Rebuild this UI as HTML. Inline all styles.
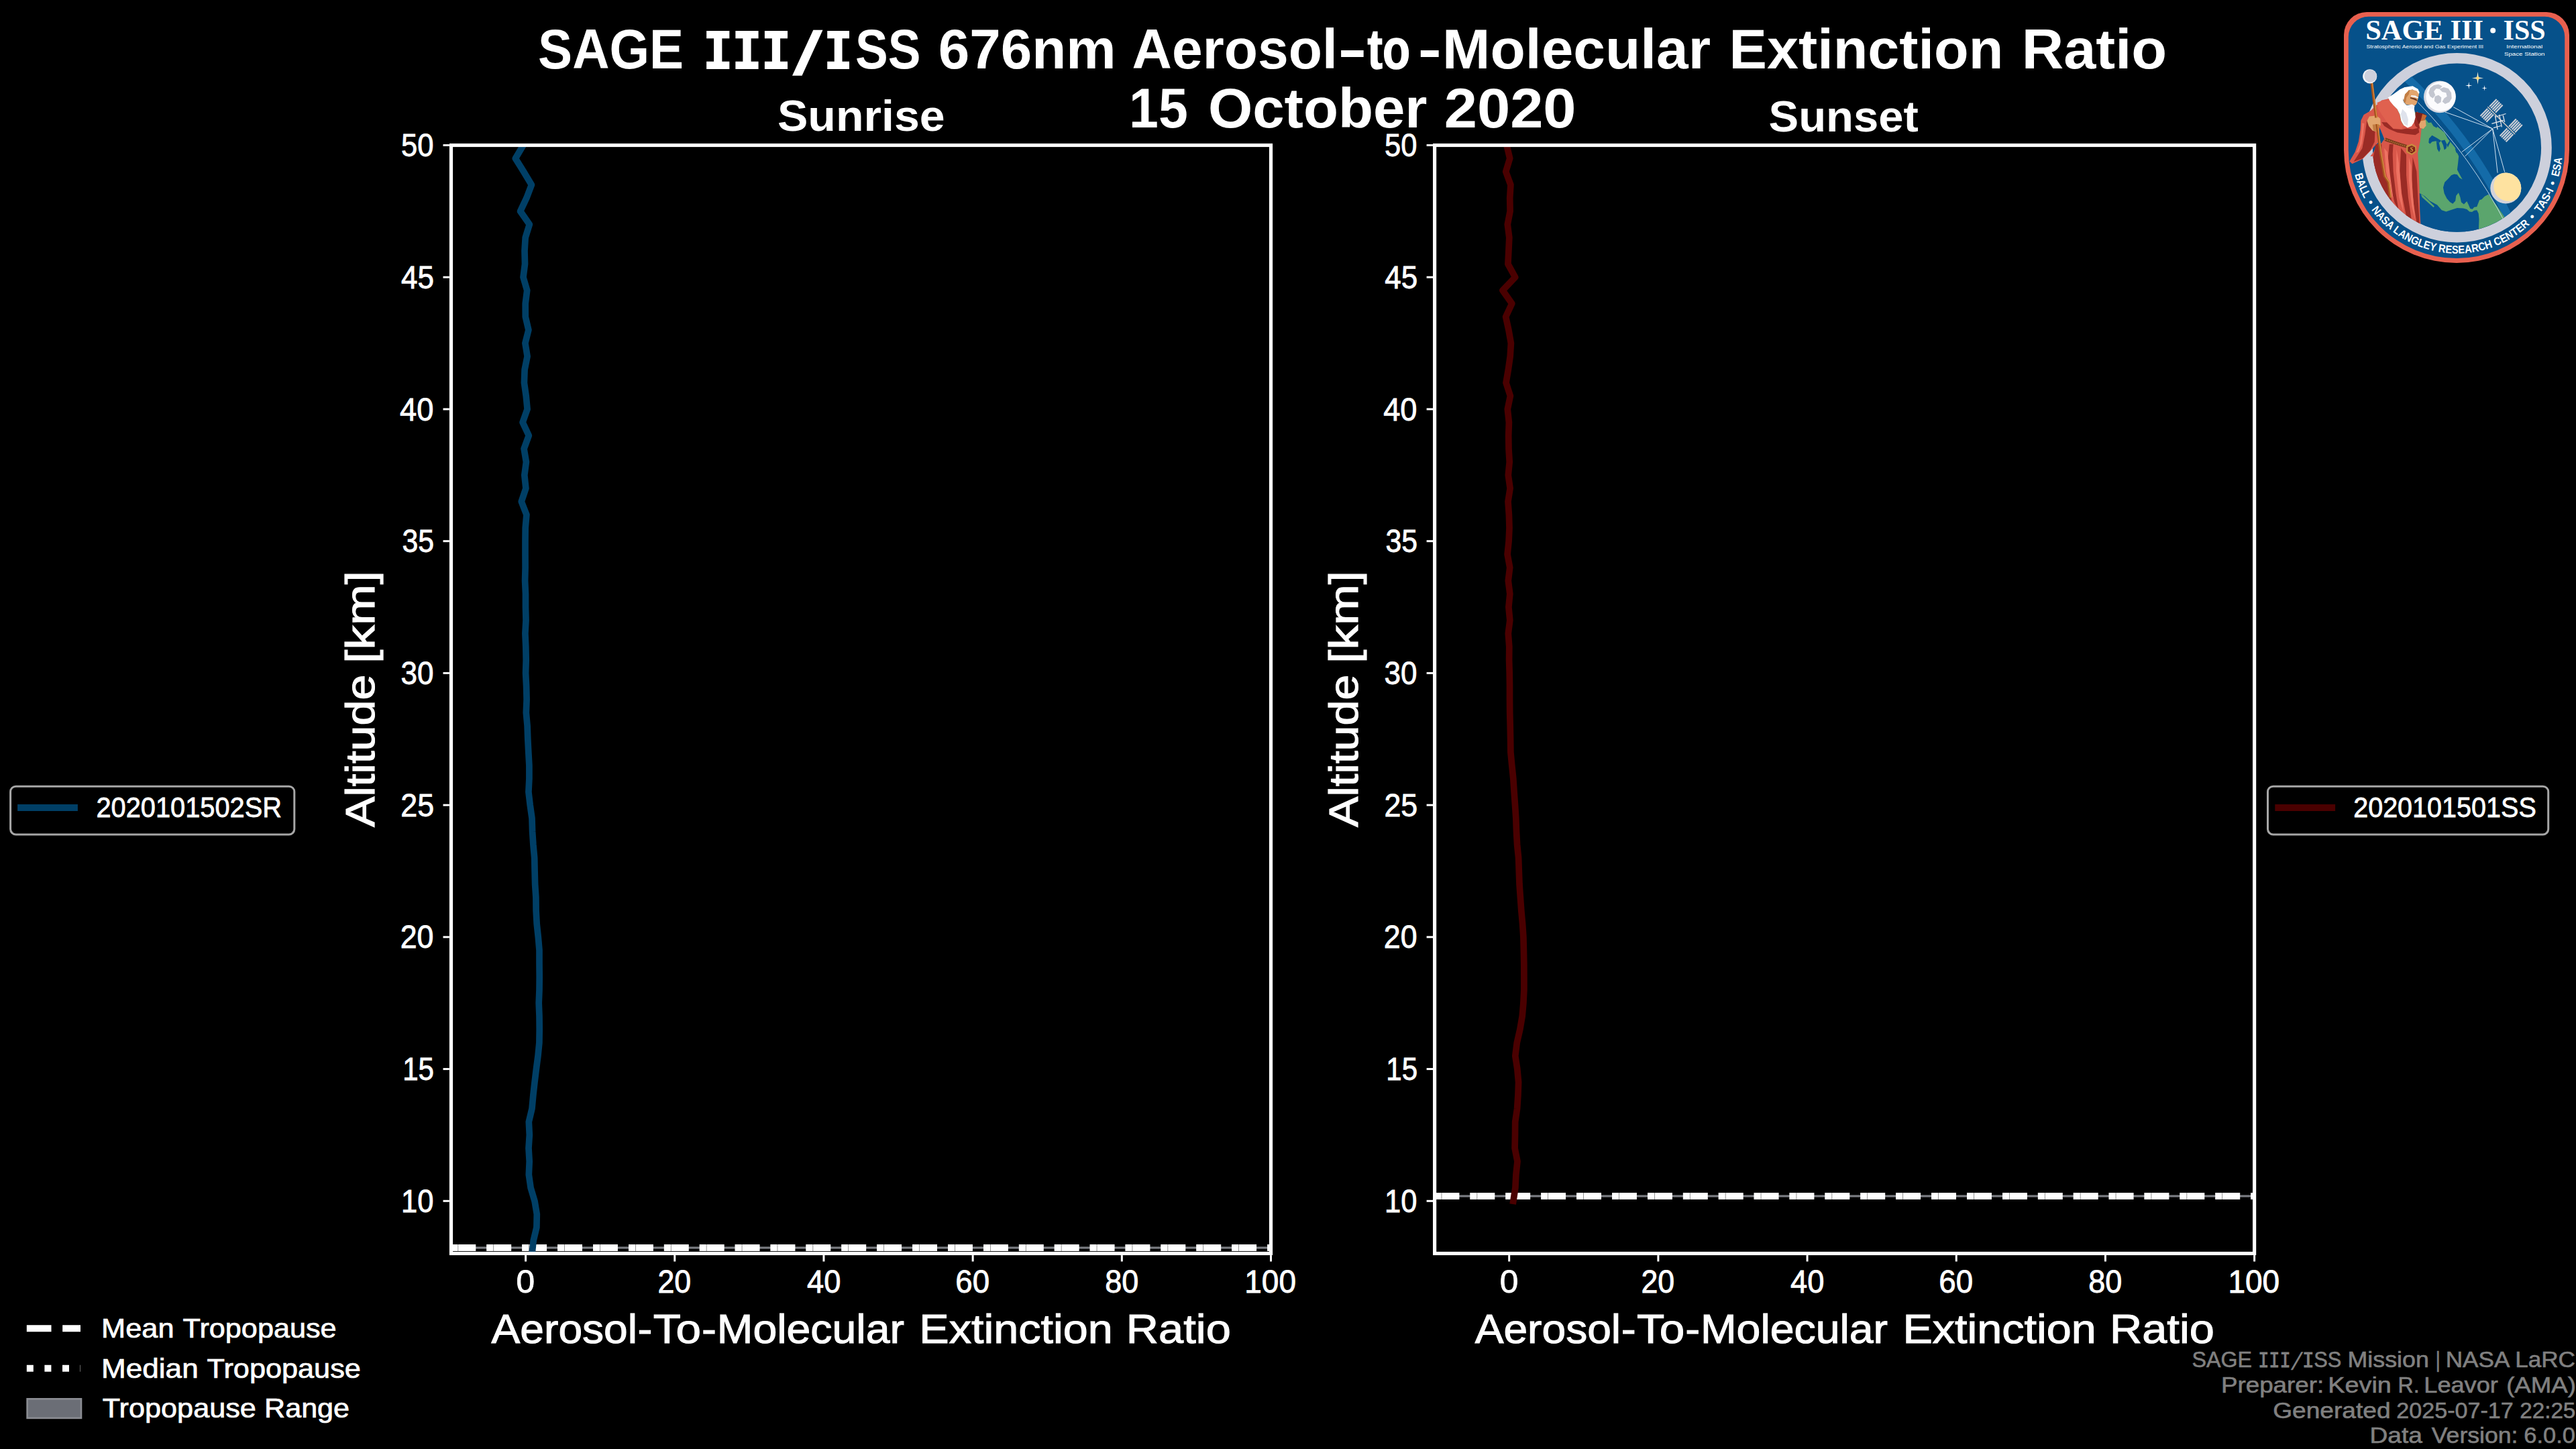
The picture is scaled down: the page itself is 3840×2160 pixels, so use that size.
<!DOCTYPE html>
<html><head><meta charset="utf-8"><title>SAGE III/ISS 676nm Aerosol-to-Molecular Extinction Ratio</title>
<style>
html,body{margin:0;padding:0;background:#000;}
body{width:3840px;height:2160px;overflow:hidden;}
svg{display:block;}
text{font-family:"Liberation Sans",sans-serif;white-space:pre;}
</style></head>
<body>
<svg width="3840" height="2160" viewBox="0 0 3840 2160">
<defs><clipPath id="clipax0"><rect x="672.5" y="216.5" width="1222" height="1652"/></clipPath><clipPath id="clipax1"><rect x="2138.6" y="216.5" width="1222" height="1652"/></clipPath></defs>
<rect width="3840" height="2160" fill="#000"/>
<g id="tropopause">
<g clip-path="url(#clipax0)">
<rect x="672.5" y="1858.4" width="1222" height="3.2" fill="#7a7c82"/>
<line x1="672.5" x2="1894.5" y1="1860" y2="1860" stroke="#fff" stroke-width="10" stroke-dasharray="36.8 16.1"/>
<line x1="672.5" x2="1894.5" y1="1860" y2="1860" stroke="#fff" stroke-width="10" stroke-dasharray="10 16.45"/>
<line x1="672.5" x2="1894.5" y1="1860" y2="1860" stroke="#6a6a6a" stroke-width="10" stroke-dasharray="0.7 52.2" stroke-dashoffset="-10"/>
</g>
<g clip-path="url(#clipax1)">
<rect x="2138.6" y="1781.4" width="1222" height="3.2" fill="#7a7c82"/>
<line x1="2138.6" x2="3360.6" y1="1783" y2="1783" stroke="#fff" stroke-width="10" stroke-dasharray="36.8 16.1"/>
<line x1="2138.6" x2="3360.6" y1="1783" y2="1783" stroke="#fff" stroke-width="10" stroke-dasharray="10 16.45"/>
<line x1="2138.6" x2="3360.6" y1="1783" y2="1783" stroke="#6a6a6a" stroke-width="10" stroke-dasharray="0.7 52.2" stroke-dashoffset="-10"/>
</g>
</g>
<g id="profiles">
<path d="M780 216.5 L768.3 236.17 L780.6 255.84 L792.4 275.52 L784.9 295.19 L775.6 314.86 L789.3 334.53 L783.2 354.21 L782 373.88 L782.5 393.55 L780 413.23 L785.7 432.9 L783.2 452.57 L783.3 472.24 L787.9 491.91 L782.9 511.59 L786.1 531.26 L782.1 550.93 L781.4 570.61 L784.2 590.28 L786.1 609.95 L779.1 629.62 L788.3 649.29 L781.1 668.97 L784.4 688.64 L781.8 708.31 L783.9 727.99 L777.3 747.66 L784.9 767.33 L783.2 787 L783 806.67 L783 826.35 L783.1 846.02 L782.6 865.69 L783.5 885.37 L783.5 905.04 L784 924.71 L782.9 944.38 L783.8 964.05 L784.2 983.73 L783.6 1003.4 L784.6 1023.07 L785.1 1042.74 L784.3 1062.42 L786.1 1082.09 L786.8 1101.76 L787.8 1121.43 L788.9 1141.11 L788.9 1160.78 L787.9 1180.45 L790.2 1200.12 L793 1219.8 L793.6 1239.47 L794.9 1259.14 L796.7 1278.82 L797.1 1298.49 L797.6 1318.16 L798.9 1337.83 L799.1 1357.5 L800.2 1377.18 L802.3 1396.85 L804 1416.52 L804 1436.19 L804.2 1455.87 L804 1475.54 L803.2 1495.21 L804 1514.88 L804.2 1534.56 L803.9 1554.23 L802 1573.9 L799.4 1593.58 L797 1613.25 L794.8 1632.92 L793 1652.59 L788.3 1672.26 L789.3 1691.94 L788 1711.61 L789.2 1731.28 L788.3 1750.95 L791.1 1770.63 L797 1790.3 L800.3 1809.97 L799.9 1829.64 L795.2 1849.32 L793.1 1868.99 L792 1888.66" fill="none" stroke="#003f66" stroke-width="9.7" stroke-linejoin="round" stroke-linecap="square" clip-path="url(#clipax0)"/>
<path d="M2246 216.5 L2250.7 236.17 L2244.7 255.84 L2251.9 275.52 L2250.7 295.19 L2251.1 314.86 L2247.3 334.53 L2249.8 354.21 L2248.9 373.88 L2247.9 393.55 L2258.7 413.23 L2240 432.9 L2253.8 452.57 L2244.6 472.24 L2248.9 491.91 L2252.4 511.59 L2251.2 531.26 L2248.4 550.93 L2245 570.61 L2251.4 590.28 L2247.3 609.95 L2249.4 629.62 L2248.7 649.29 L2249 668.97 L2250.2 688.64 L2248.3 708.31 L2251.1 727.99 L2248 747.66 L2249.4 767.33 L2250 787 L2249.1 806.67 L2247.1 826.35 L2250.7 846.02 L2248.3 865.69 L2250.8 885.37 L2248.9 905.04 L2250.8 924.71 L2248.3 944.38 L2249.8 964.05 L2249.6 983.73 L2250.2 1003.4 L2250.5 1023.07 L2250.5 1042.74 L2250.7 1062.42 L2251.2 1082.09 L2251.6 1101.76 L2251.9 1121.43 L2253.8 1141.11 L2255.8 1160.78 L2257.1 1180.45 L2258.5 1200.12 L2259.8 1219.8 L2260.5 1239.47 L2261.6 1259.14 L2263.6 1278.82 L2264.3 1298.49 L2265 1318.16 L2266.4 1337.83 L2267.8 1357.5 L2269.6 1377.18 L2270.9 1396.85 L2271.4 1416.52 L2271.8 1436.19 L2271.9 1455.87 L2271.9 1475.54 L2270.9 1495.21 L2269.2 1514.88 L2265.8 1534.56 L2261.3 1554.23 L2258.8 1573.9 L2261.8 1593.58 L2263.6 1613.25 L2262.9 1632.92 L2261.6 1652.59 L2258.7 1672.26 L2258.5 1691.94 L2258.1 1711.61 L2262 1731.28 L2259.9 1750.95 L2258.9 1770.63 L2255.9 1790.3" fill="none" stroke="#4a0000" stroke-width="9.7" stroke-linejoin="round" stroke-linecap="square" clip-path="url(#clipax1)"/>
</g>
<g id="frames">
<rect x="672.5" y="216.5" width="1222" height="1652" fill="none" stroke="#fff" stroke-width="5.2"/>
<line x1="660.5" x2="669.9" y1="1790.3" y2="1790.3" stroke="#fff" stroke-width="3"/>
<line x1="660.5" x2="669.9" y1="1593.58" y2="1593.58" stroke="#fff" stroke-width="3"/>
<line x1="660.5" x2="669.9" y1="1396.85" y2="1396.85" stroke="#fff" stroke-width="3"/>
<line x1="660.5" x2="669.9" y1="1200.12" y2="1200.12" stroke="#fff" stroke-width="3"/>
<line x1="660.5" x2="669.9" y1="1003.4" y2="1003.4" stroke="#fff" stroke-width="3"/>
<line x1="660.5" x2="669.9" y1="806.67" y2="806.67" stroke="#fff" stroke-width="3"/>
<line x1="660.5" x2="669.9" y1="609.95" y2="609.95" stroke="#fff" stroke-width="3"/>
<line x1="660.5" x2="669.9" y1="413.23" y2="413.23" stroke="#fff" stroke-width="3"/>
<line x1="660.5" x2="669.9" y1="216.5" y2="216.5" stroke="#fff" stroke-width="3"/>
<line y1="1880.5" y2="1871.1" x1="783.59" x2="783.59" stroke="#fff" stroke-width="3"/>
<line y1="1880.5" y2="1871.1" x1="1005.77" x2="1005.77" stroke="#fff" stroke-width="3"/>
<line y1="1880.5" y2="1871.1" x1="1227.95" x2="1227.95" stroke="#fff" stroke-width="3"/>
<line y1="1880.5" y2="1871.1" x1="1450.14" x2="1450.14" stroke="#fff" stroke-width="3"/>
<line y1="1880.5" y2="1871.1" x1="1672.32" x2="1672.32" stroke="#fff" stroke-width="3"/>
<line y1="1880.5" y2="1871.1" x1="1894.5" x2="1894.5" stroke="#fff" stroke-width="3"/>
<rect x="2138.6" y="216.5" width="1222" height="1652" fill="none" stroke="#fff" stroke-width="5.2"/>
<line x1="2126.6" x2="2136" y1="1790.3" y2="1790.3" stroke="#fff" stroke-width="3"/>
<line x1="2126.6" x2="2136" y1="1593.58" y2="1593.58" stroke="#fff" stroke-width="3"/>
<line x1="2126.6" x2="2136" y1="1396.85" y2="1396.85" stroke="#fff" stroke-width="3"/>
<line x1="2126.6" x2="2136" y1="1200.12" y2="1200.12" stroke="#fff" stroke-width="3"/>
<line x1="2126.6" x2="2136" y1="1003.4" y2="1003.4" stroke="#fff" stroke-width="3"/>
<line x1="2126.6" x2="2136" y1="806.67" y2="806.67" stroke="#fff" stroke-width="3"/>
<line x1="2126.6" x2="2136" y1="609.95" y2="609.95" stroke="#fff" stroke-width="3"/>
<line x1="2126.6" x2="2136" y1="413.23" y2="413.23" stroke="#fff" stroke-width="3"/>
<line x1="2126.6" x2="2136" y1="216.5" y2="216.5" stroke="#fff" stroke-width="3"/>
<line y1="1880.5" y2="1871.1" x1="2249.69" x2="2249.69" stroke="#fff" stroke-width="3"/>
<line y1="1880.5" y2="1871.1" x1="2471.87" x2="2471.87" stroke="#fff" stroke-width="3"/>
<line y1="1880.5" y2="1871.1" x1="2694.05" x2="2694.05" stroke="#fff" stroke-width="3"/>
<line y1="1880.5" y2="1871.1" x1="2916.24" x2="2916.24" stroke="#fff" stroke-width="3"/>
<line y1="1880.5" y2="1871.1" x1="3138.42" x2="3138.42" stroke="#fff" stroke-width="3"/>
<line y1="1880.5" y2="1871.1" x1="3360.6" x2="3360.6" stroke="#fff" stroke-width="3"/>
</g>
<g id="legends">
<rect x="15.6" y="1172.2" width="423.2" height="71.8" rx="8" ry="8" fill="#000" stroke="#a6a6a6" stroke-width="3"/>
<line x1="26.1" x2="115.9" y1="1204" y2="1204" stroke="#003f66" stroke-width="10"/>
<rect x="3380.5" y="1172.2" width="418.2" height="71.8" rx="8" ry="8" fill="#000" stroke="#a6a6a6" stroke-width="3"/>
<line x1="3391.3" x2="3481.1" y1="1204" y2="1204" stroke="#4a0000" stroke-width="10"/>
<line x1="39.8" x2="120" y1="1980.2" y2="1980.2" stroke="#fff" stroke-width="10" stroke-dasharray="36.7 16.7"/>
<line x1="39.8" x2="120" y1="2039.8" y2="2039.8" stroke="#fff" stroke-width="10" stroke-dasharray="10 16.6"/>
<rect x="40.6" y="2085.3" width="80.4" height="28.6" fill="#6b6e76" stroke="#8b8d93" stroke-width="2.6"/>
</g>
<g id="logo">
<defs><clipPath id="lgdisc"><circle cx="3662.5" cy="220.2" r="125.6"/></clipPath><clipPath id="lgwiz"><circle cx="3662.5" cy="220.2" r="125.89999999999999"/><rect x="3490" y="80" width="200" height="153"/></clipPath><path id="lgarc" d="M 3504.9 220.2 A 157.6 157.6 0 0 0 3820.1 220.2"/></defs>
<path d="M 3528 18 H 3796 A 34 34 0 0 1 3830 52 V 224 A 168 168 0 0 1 3494 224 V 52 A 34 34 0 0 1 3528 18 Z" fill="#e8604f"/>
<path d="M 3530.7 24.8 H 3793.3 A 29.9 29.9 0 0 1 3823.2 54.7 V 224 A 161.2 161.2 0 0 1 3500.8 224 V 54.7 A 29.9 29.9 0 0 1 3530.7 24.8 Z" fill="#06518a"/>
<circle cx="3662.5" cy="220.2" r="133.45" fill="#06518a" stroke="#cdd0dc" stroke-width="15.700000000000017"/>
<g clip-path="url(#lgdisc)">
<circle cx="3077.8" cy="671.1" r="739.0" fill="#07548f"/>
<circle cx="3107.9" cy="624.3" r="699.1" fill="none" stroke="#146ba8" stroke-width="12.5"/>
<polygon points="3566.9,155.8 3611,171.3 3620,182.9 3627.6,182.3 3632,187.9 3636.4,191.2 3644.2,197.8 3648.6,206.6 3659.6,219.9 3665.2,233.1 3664,244.2 3662.9,253 3666.3,259.6 3670.7,267.6 3666.3,264.9 3662.9,260.2 3658.5,259.4 3654.1,261.3 3649.7,266.3 3644.2,271.8 3642,279.5 3643.6,288.3 3647.5,296.1 3651.9,301 3656.3,303.8 3660.2,299.4 3661.3,291.7 3664.9,287.2 3667.4,293.9 3669,301.6 3672.9,304.4 3677.3,299.9 3679.7,304.9 3682.3,311 3685.6,311.7 3688.3,308.8 3692.2,308.2 3693.9,303.8 3696.1,298.3 3699.4,297.2 3703.8,292.8 3709.5,289.7 3721.5,306 3738,330.3 3721.5,354.6 3695,354.6 3695,340.2 3695.5,327 3694.7,318.2 3692.2,313.2 3688.3,313.7 3685,315.9 3681.2,315.4 3677.3,312.1 3671.8,310.4 3662.9,309.9 3655.2,312.6 3646.4,315.4 3639.8,313.2 3633.1,305.5 3622.1,299.4 3614.4,292.2 3607.2,288.3 3566.9,277.3" fill="#5ba56d" />
<polygon points="3608.8,289.7 3612.4,291.4 3628.9,307.3 3627.6,309.3 3610.5,294.1" fill="#5ba56d" />
<polygon points="3621,206.6 3625.4,201.7 3633.1,206.1 3638.9,209.7 3636.4,212.4 3630.9,210.2 3625.6,211.3 3622.3,214.6 3620.3,212.4" fill="#07548f" />
<polygon points="3631.8,211 3635.6,212.1 3637.8,222.1 3636,226.7 3633.1,222.1" fill="#07548f" />
<polygon points="3638.9,209.7 3644.4,208.6 3647.7,215.5 3646.6,221.2 3643.7,223.4 3642,216.6" fill="#07548f" />
<polygon points="3647.7,215.5 3653.2,207.3 3652.3,212.4 3648.8,220.1" fill="#07548f" />
<polygon points="3659.6,221.6 3662.5,223.6 3663.8,228.9 3661.4,227.2" fill="#07548f" />
<polygon points="3623.7,178 3628.7,180.7 3633.9,185.7 3632.4,190.7 3627.5,187.9 3624.7,183.4" fill="#07548f" />
<path d="M 3604.3 152.5 A 739.0 739.0 0 0 1 3735.9 335" fill="none" stroke="#cfe3f2" stroke-width="0.9"/>
<line x1="3715.7" y1="191.9" x2="3657.3" y2="159.6" stroke="#e6f1fa" stroke-width="0.9" />
<line x1="3715.7" y1="191.9" x2="3644.8" y2="167" stroke="#e6f1fa" stroke-width="0.9" />
<line x1="3715.7" y1="191.9" x2="3669.7" y2="226.7" stroke="#e6f1fa" stroke-width="0.9" />
<line x1="3715.7" y1="191.9" x2="3674.7" y2="232.9" stroke="#e6f1fa" stroke-width="0.9" />
<line x1="3715.7" y1="191.9" x2="3723.1" y2="257.7" stroke="#e6f1fa" stroke-width="0.9" />
<line x1="3715.7" y1="191.9" x2="3733.7" y2="256.5" stroke="#e6f1fa" stroke-width="0.9" />
<circle cx="3636.9" cy="144.4" r="23.9" fill="#d6d8e1"/>
<circle cx="3638.5" cy="143.8" r="22.2" fill="#fbfbfd"/>
<polygon points="3620.4,138.3 3622.5,131.3 3628.1,127.1 3635.1,125.7 3640.7,128.5 3636.5,132.7 3631.6,132 3628.1,136.2 3630.2,141.7 3626.7,146.6 3622.5,143.8" fill="#c3c6d0" />
<polygon points="3636.5,132.7 3642.8,129.9 3649.8,132 3654,138.3 3654.7,146.6 3651.2,152.2 3644.9,155 3640.7,151.5 3643.5,146.6 3647.7,143.8 3646.3,138.3 3640.7,136.9" fill="#c3c6d0" />
<polygon points="3629.5,143.8 3635.1,141.7 3639.3,145.2 3638.6,152.2 3633.7,155 3628.8,150.8" fill="#c3c6d0" />
<path d="M 3693.5 107.1 L 3694.7 115.2 L 3702.2 116.4 L 3694.7 117.6 L 3693.5 125.7 L 3692.3 117.6 L 3684.8 116.4 L 3692.3 115.2 Z" fill="#fff6d8"/>
<circle cx="3693.5" cy="116.4" r="2.4" fill="#fdd877"/>
<path d="M 3680.2 121.9 L 3680.9 126.8 L 3685.4 127.5 L 3680.9 128.2 L 3680.2 133.1 L 3679.5 128.2 L 3675 127.5 L 3679.5 126.8 Z" fill="#ffffff"/>
<path d="M 3703.5 127 L 3704.1 130.7 L 3707.5 131.3 L 3704.1 131.9 L 3703.5 135.6 L 3702.9 131.9 L 3699.5 131.3 L 3702.9 130.7 Z" fill="#ffffff"/>
<clipPath id="lgsun"><circle cx="3735.3" cy="280.6" r="23"/></clipPath>
<circle cx="3735.3" cy="280.6" r="23" fill="#d3d3db"/>
<circle cx="3739.6" cy="277.6" r="22.4" fill="#fee2a0" clip-path="url(#lgsun)"/>
<line x1="3711" y1="159.1" x2="3721.6" y2="147.9" stroke="#cdcfd6" stroke-width="2.2"/><line x1="3713.2" y1="161.2" x2="3723.9" y2="150.1" stroke="#cdcfd6" stroke-width="2.2"/><line x1="3715.4" y1="163.4" x2="3726.1" y2="152.2" stroke="#cdcfd6" stroke-width="2.2"/><line x1="3717.6" y1="165.5" x2="3728.3" y2="154.4" stroke="#cdcfd6" stroke-width="2.2"/><line x1="3719.9" y1="167.7" x2="3730.6" y2="156.5" stroke="#cdcfd6" stroke-width="2.2"/><line x1="3708.2" y1="162" x2="3697.5" y2="173.1" stroke="#cdcfd6" stroke-width="2.2"/><line x1="3710.4" y1="164.1" x2="3699.7" y2="175.3" stroke="#cdcfd6" stroke-width="2.2"/><line x1="3712.7" y1="166.3" x2="3702" y2="177.4" stroke="#cdcfd6" stroke-width="2.2"/><line x1="3714.9" y1="168.4" x2="3704.2" y2="179.6" stroke="#cdcfd6" stroke-width="2.2"/><line x1="3717.1" y1="170.5" x2="3706.4" y2="181.7" stroke="#cdcfd6" stroke-width="2.2"/>
<line x1="3740.1" y1="188.7" x2="3750.8" y2="177.5" stroke="#cdcfd6" stroke-width="2.2"/><line x1="3742.4" y1="190.8" x2="3753.1" y2="179.6" stroke="#cdcfd6" stroke-width="2.2"/><line x1="3744.6" y1="192.9" x2="3755.3" y2="181.8" stroke="#cdcfd6" stroke-width="2.2"/><line x1="3746.8" y1="195.1" x2="3757.5" y2="183.9" stroke="#cdcfd6" stroke-width="2.2"/><line x1="3749.1" y1="197.2" x2="3759.8" y2="186.1" stroke="#cdcfd6" stroke-width="2.2"/><line x1="3737.4" y1="191.5" x2="3726.7" y2="202.7" stroke="#cdcfd6" stroke-width="2.2"/><line x1="3739.6" y1="193.7" x2="3728.9" y2="204.8" stroke="#cdcfd6" stroke-width="2.2"/><line x1="3741.8" y1="195.8" x2="3731.2" y2="207" stroke="#cdcfd6" stroke-width="2.2"/><line x1="3744.1" y1="198" x2="3733.4" y2="209.1" stroke="#cdcfd6" stroke-width="2.2"/><line x1="3746.3" y1="200.1" x2="3735.6" y2="211.3" stroke="#cdcfd6" stroke-width="2.2"/>
<line x1="3708.3" y1="159.3" x2="3749" y2="199.9" stroke="#d9cfc4" stroke-width="1.4"/>
<line x1="3719.4" y1="174.5" x2="3735.5" y2="169.5" stroke="#e4e5ea" stroke-width="1.3" />
<line x1="3714.4" y1="184.4" x2="3731.8" y2="179.5" stroke="#e4e5ea" stroke-width="1.3" />
<line x1="3716.9" y1="190.7" x2="3728.1" y2="187.5" stroke="#e4e5ea" stroke-width="1.3" />
<line x1="3719.4" y1="172" x2="3723.1" y2="193.1" stroke="#e4e5ea" stroke-width="1.3" />
<line x1="3725.6" y1="170.8" x2="3729.3" y2="189.4" stroke="#e4e5ea" stroke-width="1.3" />
<line x1="3731.2" y1="172" x2="3733.7" y2="182" stroke="#e4e5ea" stroke-width="1.3" />
</g>
<g id="wizard">
<polygon points="3534,165.1 3523.6,171.1 3519.3,179.7 3518.5,193.5 3515.9,210.8 3510.7,226.3 3502.4,240.4 3506.4,244.2 3521.9,237 3533.1,225.4 3540.4,217.3 3546.9,210.8 3546.9,186.6 3540,171.1" fill="#d9574a" />
<polygon points="3528.3,179.7 3525.4,200.4 3521.4,221.1 3508.6,241.1 3522.1,236 3533.1,224.6 3539.7,211.6 3540.4,195.2 3535.2,186.6" fill="#9a2b25" />
<polygon points="3521.1,183.2 3519.7,200.4 3517.3,215.9 3512.1,228 3515.9,226.3 3520.7,214.2 3523.1,197 3524.5,184" fill="#ee7262" />
<g clip-path="url(#lgwiz)">
<polygon points="3563.3,146.6 3550.4,149.5 3540,159 3533.1,165.9 3530,176.3 3541.8,179.7 3548.7,193.5 3554.2,207.3 3546.9,217.7 3541.1,220.4 3538.3,226.3 3524.5,245.3 3528,279.8 3555.6,322.9 3597,345.3 3609,345.3 3607.3,314.3 3606.5,279.8 3605.3,245.3 3604.2,228 3607.7,210.8 3609.4,193.5 3611.1,186.6 3603.9,165.9 3593.5,186.6 3579.7,186.6 3572.8,167.6 3565.9,152.1" fill="#d9574a" />
<polygon points="3541.5,215 3536.7,239.2 3531.9,263.3 3540.6,292.3 3558,311.6 3567.6,311.6 3561.8,282.6 3554.1,255.6 3550.2,234.3 3550.2,215" fill="#9a2b25" />
<polygon points="3561.8,215 3558.9,244 3562.8,274.9 3569.6,302 3575.4,312.6 3571.5,288.4 3567.6,255.6 3566.7,229.5 3567.6,215" fill="#9a2b25" />
<polygon points="3579.2,220.8 3577.3,255.6 3580.2,288.4 3587,322.2 3594.7,327.1 3589.9,294.2 3587,260.4 3587,230.5" fill="#9a2b25" />
<polygon points="3596.6,234.3 3595.2,269.1 3597.6,302 3602.4,330.9 3606.8,333.4 3604.3,292.3 3602.4,255.6" fill="#9a2b25" />
<polygon points="3554.1,220.8 3557,255.6 3563.8,288.4 3567.6,296.2 3562.8,260.4 3558.9,226.6" fill="#ee7262" />
<polygon points="3572.5,222.7 3572,255.6 3576.3,294.2 3583.1,317.4 3579.2,282.6 3576.3,244" fill="#ee7262" />
<polygon points="3590.8,234.3 3590.8,269.1 3595.2,307.8 3600.5,329 3596.6,288.4 3594.2,246.9" fill="#ee7262" />
<polygon points="3561.8,149.1 3552.2,149.6 3543.5,153 3545.4,162.6 3550.2,170.4 3558,182 3567.6,191.6 3579.2,192.6 3583.1,187.8 3579.2,180 3577.3,170.4 3573.4,162.6 3567.6,156.8 3562.8,151" fill="#e0614f" />
<polygon points="3550.2,182 3558,182.4 3567.6,192.1 3580.2,193.1 3587,191.6 3596.6,192.6 3605.3,190.7 3606.3,197.4 3600.5,201.3 3587,199.8 3573.4,197.4 3561.8,192.6 3554.1,187.8" fill="#9a2b25" />
<polygon points="3600.5,168.4 3604.8,182 3607.2,191.6 3604.8,191.6 3600.5,187.8 3598.6,182" fill="#9a2b25" />
<polyline points="3555.3,207.6 3567.6,212.1 3579.2,215.8 3587.4,218.2" fill="none" stroke="#7b3d1c" stroke-width="4.8" />
<polyline points="3555.3,207.6 3567.6,212.1 3579.2,215.8 3587.4,218.2" fill="none" stroke="#b8743a" stroke-width="1.6" stroke-dasharray="1.6 1.4"/>
<polygon points="3587.4,217.2 3595.2,214.3 3601.9,217.7 3602.4,226.4 3595.2,231.2 3587,226.9" fill="#c98a3e" />
<polygon points="3589.4,219.2 3595.2,216.9 3600,219.4 3600.3,225.2 3595.2,228.8 3589.4,225.4" fill="#7a2418" />
<text x="3594.9" y="225.6" text-anchor="middle" font-size="9.5" font-style="italic" font-weight="bold" fill="#d89a48" style="font-family:&quot;Liberation Serif&quot;,serif">S</text>
<polygon points="3600.5,166.7 3613,169.6 3617.7,172.3 3614.2,179.3 3610.1,187 3605.5,184.9 3602.6,177.1" fill="#7c211b" />
<polygon points="3611.1,169.9 3617.5,172.3 3613.5,181 3608,182" fill="#c46a33" />
<polygon points="3608.4,180.5 3615.9,178.9 3616.5,187.6 3612.6,192.1 3607.4,190.8 3606.3,184.9" fill="#e2a56d" />
<polygon points="3531.9,173.5 3542.5,172.3 3548.3,177.1 3548.8,186.8 3544,191.6 3543,196.6 3536.7,194.7 3531.1,187.9 3528.5,180.2" fill="#e2a56d" />
<polygon points="3536.7,185.8 3543.5,184.9 3548.3,186.8 3544,191.6 3543,196.6 3537.9,194.5" fill="#c27d43" />
<polygon points="3585,130 3596.6,128.3 3604.5,132.7 3606.7,138 3605.3,140.4 3596.6,133.6 3587.4,135.4 3582.1,140.4 3581.4,146.2 3583.3,152.2 3587.1,156.8 3592.9,157 3599.3,158 3598.7,161.9 3599.7,166.7 3600.7,174.4 3598.7,182.1 3594.9,187.9 3589.1,190.5 3583.3,187 3579.4,180.2 3577.5,170.6 3573.6,162.8 3567.8,157 3563,151.2 3559.7,145.4 3567.6,140.4 3577.3,133.6" fill="#ffffff" />
<polygon points="3581.2,162.6 3587,168.4 3589.9,178.1 3588.9,187.8 3584.1,184.9 3580.7,178.1 3578.7,170.4" fill="#dfe3ec" />
<polygon points="3587.4,135.6 3595.2,133.6 3602.6,135.6 3605.9,140.4 3604.9,145.4 3604,149.3 3602.6,154.1 3601.3,155.9 3599.5,157.3 3592.9,156.3 3587.1,156.3 3583.7,152.2 3582.1,146.4 3583.3,140.6" fill="#e2a56d" />
<polygon points="3587.4,135.6 3592.3,134.4 3590.8,140.4 3587.4,145.2 3586,153 3583.7,152.2 3582.1,146.4 3583.3,140.6" fill="#c27d43" />
<polygon points="3592.8,145 3601,146.8 3604,149.7 3602.6,150.5 3597.6,148.3 3592.9,146.8" fill="#6b3a22" />
<polygon points="3594.2,142.1 3600.5,142.5 3605.1,145.2 3604.3,146.6 3599.5,144.9 3593.9,143.9" fill="#f3f3f6" />
<polygon points="3577.3,133.6 3585,130 3589.9,135.6 3585,140.4 3583.1,149.1 3579.2,145.2 3576.3,138.5" fill="#ffffff" />
<polygon points="3589.9,156.8 3595.7,155.4 3599.5,157.8 3598.6,162.6 3592.8,161.7 3588.9,160.7" fill="#f4f5f9" />
</g>
<polyline points="3535.2,121.9 3541.8,172.8 3548.7,228 3554.7,262.5 3560.4,271.2 3563.3,294.5" fill="none" stroke="#a4531e" stroke-width="3.9" stroke-linejoin="round" clip-path="url(#lgwiz)"/>
<polyline points="3536.2,121.9 3542.8,172.8 3549.7,228 3555.7,262.5 3561.4,271.2 3564.4,294.5" fill="none" stroke="#d99143" stroke-width="1.3" stroke-linejoin="round" clip-path="url(#lgwiz)"/>
<circle cx="3532.7" cy="113.8" r="10.6" fill="#f2f3f7"/>
<circle cx="3533.7" cy="113.2" r="9.2" fill="#cdd0dc"/>
<polygon points="3531.9,176.2 3545.4,175.2 3548.3,180 3546.4,184.9 3532.9,184.9 3529,181" fill="#e2a56d" />
</g>
<!--LOGOTEXT-->
</g>
<g id="labels">
<text x="802.1" y="102" font-size="82.6" font-weight="bold" fill="#fff" textLength="217.02" lengthAdjust="spacingAndGlyphs">SAGE</text>
<text x="1048.48" y="102" font-size="82.6" font-weight="bold" fill="#fff" stroke="#fff" stroke-width="2" style="font-family:&quot;Liberation Mono&quot;,monospace" textLength="130.2" lengthAdjust="spacingAndGlyphs">III</text>
<text x="1228.75" y="102" font-size="82.6" font-weight="bold" fill="#fff" stroke="#fff" stroke-width="2" style="font-family:&quot;Liberation Mono&quot;,monospace" textLength="41.73" lengthAdjust="spacingAndGlyphs">I</text>
<text x="1275.06" y="102" font-size="82.6" font-weight="bold" fill="#fff" textLength="97.36" lengthAdjust="spacingAndGlyphs">SS</text>
<text x="1398.89" y="102" font-size="82.6" font-weight="bold" fill="#fff" textLength="264.81" lengthAdjust="spacingAndGlyphs">676nm</text>
<text x="1687.62" y="102" font-size="82.6" font-weight="bold" fill="#fff" textLength="306.14" lengthAdjust="spacingAndGlyphs">Aerosol</text>
<text x="1994.08" y="102" font-size="82.6" font-weight="bold" fill="#fff" textLength="43.88" lengthAdjust="spacingAndGlyphs">-</text>
<text x="2038.6" y="102" font-size="82.6" font-weight="bold" fill="#fff" stroke="#fff" stroke-width="1.6" textLength="63.5" lengthAdjust="spacingAndGlyphs">to</text>
<text x="2113.71" y="102" font-size="82.6" font-weight="bold" fill="#fff" textLength="35.1" lengthAdjust="spacingAndGlyphs">-</text>
<text x="2150.14" y="102" font-size="82.6" font-weight="bold" fill="#fff" textLength="399.97" lengthAdjust="spacingAndGlyphs">Molecular</text>
<text x="2577.62" y="102" font-size="82.6" font-weight="bold" fill="#fff" textLength="408.67" lengthAdjust="spacingAndGlyphs">Extinction</text>
<text x="3013.69" y="102" font-size="82.6" font-weight="bold" fill="#fff" textLength="216.34" lengthAdjust="spacingAndGlyphs">Ratio</text>
<text x="1683.07" y="190.2" font-size="82.6" font-weight="bold" fill="#fff" textLength="87.69" lengthAdjust="spacingAndGlyphs">15</text>
<text x="1801.04" y="190.2" font-size="82.6" font-weight="bold" fill="#fff" textLength="326.47" lengthAdjust="spacingAndGlyphs">October</text>
<text x="2152.73" y="190.2" font-size="82.6" font-weight="bold" fill="#fff" textLength="196.85" lengthAdjust="spacingAndGlyphs">2020</text>
<text x="1158.94" y="195.4" font-size="65.4" font-weight="bold" fill="#fff" textLength="249.76" lengthAdjust="spacingAndGlyphs">Sunrise</text>
<text x="2636.55" y="196" font-size="65.4" font-weight="bold" fill="#fff" textLength="223.27" lengthAdjust="spacingAndGlyphs">Sunset</text>
<text x="597.98" y="1806.9" font-size="47.2" font-weight="normal" fill="#fff" stroke="#fff" stroke-width="0.85" textLength="48.4" lengthAdjust="spacingAndGlyphs">10</text>
<text x="600.17" y="1610.17" font-size="47.2" font-weight="normal" fill="#fff" stroke="#fff" stroke-width="0.85" textLength="46.84" lengthAdjust="spacingAndGlyphs">15</text>
<text x="596.71" y="1413.45" font-size="47.2" font-weight="normal" fill="#fff" stroke="#fff" stroke-width="0.85" textLength="49.71" lengthAdjust="spacingAndGlyphs">20</text>
<text x="597.3" y="1216.72" font-size="47.2" font-weight="normal" fill="#fff" stroke="#fff" stroke-width="0.85" textLength="49.81" lengthAdjust="spacingAndGlyphs">25</text>
<text x="597.42" y="1020" font-size="47.2" font-weight="normal" fill="#fff" stroke="#fff" stroke-width="0.85" textLength="48.97" lengthAdjust="spacingAndGlyphs">30</text>
<text x="599.46" y="823.27" font-size="47.2" font-weight="normal" fill="#fff" stroke="#fff" stroke-width="0.85" textLength="47.57" lengthAdjust="spacingAndGlyphs">35</text>
<text x="596.09" y="626.55" font-size="47.2" font-weight="normal" fill="#fff" stroke="#fff" stroke-width="0.85" textLength="50.33" lengthAdjust="spacingAndGlyphs">40</text>
<text x="598.11" y="429.83" font-size="47.2" font-weight="normal" fill="#fff" stroke="#fff" stroke-width="0.85" textLength="48.97" lengthAdjust="spacingAndGlyphs">45</text>
<text x="597.94" y="233.1" font-size="47.2" font-weight="normal" fill="#fff" stroke="#fff" stroke-width="0.85" textLength="48.45" lengthAdjust="spacingAndGlyphs">50</text>
<text x="769.64" y="1927" font-size="47.2" font-weight="normal" fill="#fff" stroke="#fff" stroke-width="0.85" textLength="27.59" lengthAdjust="spacingAndGlyphs">0</text>
<text x="980.43" y="1927" font-size="47.2" font-weight="normal" fill="#fff" stroke="#fff" stroke-width="0.85" textLength="49.71" lengthAdjust="spacingAndGlyphs">20</text>
<text x="1203" y="1927" font-size="47.2" font-weight="normal" fill="#fff" stroke="#fff" stroke-width="0.85" textLength="50.33" lengthAdjust="spacingAndGlyphs">40</text>
<text x="1424.25" y="1927" font-size="47.2" font-weight="normal" fill="#fff" stroke="#fff" stroke-width="0.85" textLength="50.78" lengthAdjust="spacingAndGlyphs">60</text>
<text x="1647.16" y="1927" font-size="47.2" font-weight="normal" fill="#fff" stroke="#fff" stroke-width="0.85" textLength="50.03" lengthAdjust="spacingAndGlyphs">80</text>
<text x="1855.28" y="1927" font-size="47.2" font-weight="normal" fill="#fff" stroke="#fff" stroke-width="0.85" textLength="76.72" lengthAdjust="spacingAndGlyphs">100</text>
<text x="732.6" y="2002" font-size="61.6" font-weight="normal" fill="#fff" stroke="#fff" stroke-width="1.11" textLength="217.43" lengthAdjust="spacingAndGlyphs">Aerosol</text>
<text x="950.64" y="2002" font-size="61.6" font-weight="normal" fill="#fff" stroke="#fff" stroke-width="1.11" textLength="21.94" lengthAdjust="spacingAndGlyphs">-</text>
<text x="973.85" y="2002" font-size="61.6" font-weight="normal" fill="#fff" stroke="#fff" stroke-width="1.11" textLength="71.29" lengthAdjust="spacingAndGlyphs">To</text>
<text x="1046.14" y="2002" font-size="61.6" font-weight="normal" fill="#fff" stroke="#fff" stroke-width="1.11" textLength="21.94" lengthAdjust="spacingAndGlyphs">-</text>
<text x="1068.87" y="2002" font-size="61.6" font-weight="normal" fill="#fff" stroke="#fff" stroke-width="1.11" textLength="279.04" lengthAdjust="spacingAndGlyphs">Molecular</text>
<text x="1370.3" y="2002" font-size="61.6" font-weight="normal" fill="#fff" stroke="#fff" stroke-width="1.11" textLength="288.43" lengthAdjust="spacingAndGlyphs">Extinction</text>
<text x="1678.88" y="2002" font-size="61.6" font-weight="normal" fill="#fff" stroke="#fff" stroke-width="1.11" textLength="155.93" lengthAdjust="spacingAndGlyphs">Ratio</text>
<text transform="translate(558.3 1233) rotate(-90)" font-size="61.6" font-weight="normal" fill="#fff" stroke="#fff" stroke-width="1.11" textLength="227.36" lengthAdjust="spacingAndGlyphs">Altitude</text>
<text transform="translate(558.3 988.87) rotate(-90)" font-size="61.6" font-weight="normal" fill="#fff" stroke="#fff" stroke-width="1.11" textLength="137.98" lengthAdjust="spacingAndGlyphs">[km]</text>
<text x="2064.08" y="1806.9" font-size="47.2" font-weight="normal" fill="#fff" stroke="#fff" stroke-width="0.85" textLength="48.4" lengthAdjust="spacingAndGlyphs">10</text>
<text x="2066.27" y="1610.17" font-size="47.2" font-weight="normal" fill="#fff" stroke="#fff" stroke-width="0.85" textLength="46.84" lengthAdjust="spacingAndGlyphs">15</text>
<text x="2062.81" y="1413.45" font-size="47.2" font-weight="normal" fill="#fff" stroke="#fff" stroke-width="0.85" textLength="49.71" lengthAdjust="spacingAndGlyphs">20</text>
<text x="2063.4" y="1216.72" font-size="47.2" font-weight="normal" fill="#fff" stroke="#fff" stroke-width="0.85" textLength="49.81" lengthAdjust="spacingAndGlyphs">25</text>
<text x="2063.52" y="1020" font-size="47.2" font-weight="normal" fill="#fff" stroke="#fff" stroke-width="0.85" textLength="48.97" lengthAdjust="spacingAndGlyphs">30</text>
<text x="2065.56" y="823.27" font-size="47.2" font-weight="normal" fill="#fff" stroke="#fff" stroke-width="0.85" textLength="47.57" lengthAdjust="spacingAndGlyphs">35</text>
<text x="2062.19" y="626.55" font-size="47.2" font-weight="normal" fill="#fff" stroke="#fff" stroke-width="0.85" textLength="50.33" lengthAdjust="spacingAndGlyphs">40</text>
<text x="2064.21" y="429.83" font-size="47.2" font-weight="normal" fill="#fff" stroke="#fff" stroke-width="0.85" textLength="48.97" lengthAdjust="spacingAndGlyphs">45</text>
<text x="2064.04" y="233.1" font-size="47.2" font-weight="normal" fill="#fff" stroke="#fff" stroke-width="0.85" textLength="48.45" lengthAdjust="spacingAndGlyphs">50</text>
<text x="2235.74" y="1927" font-size="47.2" font-weight="normal" fill="#fff" stroke="#fff" stroke-width="0.85" textLength="27.59" lengthAdjust="spacingAndGlyphs">0</text>
<text x="2446.53" y="1927" font-size="47.2" font-weight="normal" fill="#fff" stroke="#fff" stroke-width="0.85" textLength="49.71" lengthAdjust="spacingAndGlyphs">20</text>
<text x="2669.1" y="1927" font-size="47.2" font-weight="normal" fill="#fff" stroke="#fff" stroke-width="0.85" textLength="50.33" lengthAdjust="spacingAndGlyphs">40</text>
<text x="2890.35" y="1927" font-size="47.2" font-weight="normal" fill="#fff" stroke="#fff" stroke-width="0.85" textLength="50.78" lengthAdjust="spacingAndGlyphs">60</text>
<text x="3113.26" y="1927" font-size="47.2" font-weight="normal" fill="#fff" stroke="#fff" stroke-width="0.85" textLength="50.03" lengthAdjust="spacingAndGlyphs">80</text>
<text x="3321.38" y="1927" font-size="47.2" font-weight="normal" fill="#fff" stroke="#fff" stroke-width="0.85" textLength="76.72" lengthAdjust="spacingAndGlyphs">100</text>
<text x="2198.7" y="2002" font-size="61.6" font-weight="normal" fill="#fff" stroke="#fff" stroke-width="1.11" textLength="217.43" lengthAdjust="spacingAndGlyphs">Aerosol</text>
<text x="2416.74" y="2002" font-size="61.6" font-weight="normal" fill="#fff" stroke="#fff" stroke-width="1.11" textLength="21.94" lengthAdjust="spacingAndGlyphs">-</text>
<text x="2439.95" y="2002" font-size="61.6" font-weight="normal" fill="#fff" stroke="#fff" stroke-width="1.11" textLength="71.29" lengthAdjust="spacingAndGlyphs">To</text>
<text x="2512.24" y="2002" font-size="61.6" font-weight="normal" fill="#fff" stroke="#fff" stroke-width="1.11" textLength="21.94" lengthAdjust="spacingAndGlyphs">-</text>
<text x="2534.97" y="2002" font-size="61.6" font-weight="normal" fill="#fff" stroke="#fff" stroke-width="1.11" textLength="279.04" lengthAdjust="spacingAndGlyphs">Molecular</text>
<text x="2836.4" y="2002" font-size="61.6" font-weight="normal" fill="#fff" stroke="#fff" stroke-width="1.11" textLength="288.43" lengthAdjust="spacingAndGlyphs">Extinction</text>
<text x="3144.98" y="2002" font-size="61.6" font-weight="normal" fill="#fff" stroke="#fff" stroke-width="1.11" textLength="155.93" lengthAdjust="spacingAndGlyphs">Ratio</text>
<text transform="translate(2024.4 1233) rotate(-90)" font-size="61.6" font-weight="normal" fill="#fff" stroke="#fff" stroke-width="1.11" textLength="227.36" lengthAdjust="spacingAndGlyphs">Altitude</text>
<text transform="translate(2024.4 988.87) rotate(-90)" font-size="61.6" font-weight="normal" fill="#fff" stroke="#fff" stroke-width="1.11" textLength="137.98" lengthAdjust="spacingAndGlyphs">[km]</text>
<text x="143.44" y="1217.9" font-size="42" font-weight="normal" fill="#fff" stroke="#fff" stroke-width="0.76" textLength="276.54" lengthAdjust="spacingAndGlyphs">2020101502SR</text>
<text x="3508.15" y="1217.9" font-size="42" font-weight="normal" fill="#fff" stroke="#fff" stroke-width="0.76" textLength="272.71" lengthAdjust="spacingAndGlyphs">2020101501SS</text>
<text x="151.11" y="1994" font-size="41" font-weight="normal" fill="#fff" stroke="#fff" stroke-width="0.74" textLength="108.42" lengthAdjust="spacingAndGlyphs">Mean</text>
<text x="272.62" y="1994" font-size="41" font-weight="normal" fill="#fff" stroke="#fff" stroke-width="0.74" textLength="229.03" lengthAdjust="spacingAndGlyphs">Tropopause</text>
<text x="151.06" y="2054.2" font-size="41" font-weight="normal" fill="#fff" stroke="#fff" stroke-width="0.74" textLength="144.62" lengthAdjust="spacingAndGlyphs">Median</text>
<text x="308.62" y="2054.2" font-size="41" font-weight="normal" fill="#fff" stroke="#fff" stroke-width="0.74" textLength="229.23" lengthAdjust="spacingAndGlyphs">Tropopause</text>
<text x="152.82" y="2113.3" font-size="41" font-weight="normal" fill="#fff" stroke="#fff" stroke-width="0.74" textLength="229.03" lengthAdjust="spacingAndGlyphs">Tropopause</text>
<text x="394.14" y="2113.3" font-size="41" font-weight="normal" fill="#fff" stroke="#fff" stroke-width="0.74" textLength="126.91" lengthAdjust="spacingAndGlyphs">Range</text>
<text x="3267.6" y="2038.2" font-size="32.6" font-weight="normal" fill="#808080" stroke="#808080" stroke-width="0.59" textLength="89.36" lengthAdjust="spacingAndGlyphs">SAGE</text>
<text x="3366.29" y="2038.2" font-size="32.6" font-weight="normal" fill="#808080" stroke="#808080" stroke-width="1" style="font-family:&quot;Liberation Mono&quot;,monospace" textLength="48.28" lengthAdjust="spacingAndGlyphs">III</text>
<text x="3432.04" y="2038.2" font-size="32.6" font-weight="normal" fill="#808080" stroke="#808080" stroke-width="1" style="font-family:&quot;Liberation Mono&quot;,monospace" textLength="17.64" lengthAdjust="spacingAndGlyphs">I</text>
<text x="3449.34" y="2038.2" font-size="32.6" font-weight="normal" fill="#808080" stroke="#808080" stroke-width="0.59" textLength="41.05" lengthAdjust="spacingAndGlyphs">SS</text>
<text x="3499.5" y="2038.2" font-size="32.6" font-weight="normal" fill="#808080" stroke="#808080" stroke-width="0.59" textLength="121.31" lengthAdjust="spacingAndGlyphs">Mission</text>
<text x="3630.72" y="2038.2" font-size="32.6" font-weight="normal" fill="#808080" stroke="#808080" stroke-width="0.59" textLength="6.93" lengthAdjust="spacingAndGlyphs">|</text>
<text x="3645.68" y="2038.2" font-size="32.6" font-weight="normal" fill="#808080" stroke="#808080" stroke-width="0.59" textLength="193.32" lengthAdjust="spacingAndGlyphs">NASA LaRC</text>
<text x="3310.93" y="2076" font-size="32.6" font-weight="normal" fill="#808080" stroke="#808080" stroke-width="0.59" textLength="153.3" lengthAdjust="spacingAndGlyphs">Preparer:</text>
<text x="3470.35" y="2076" font-size="32.6" font-weight="normal" fill="#808080" stroke="#808080" stroke-width="0.59" textLength="94.47" lengthAdjust="spacingAndGlyphs">Kevin</text>
<text x="3574.6" y="2076" font-size="32.6" font-weight="normal" fill="#808080" stroke="#808080" stroke-width="0.59" textLength="31.99" lengthAdjust="spacingAndGlyphs">R.</text>
<text x="3613.27" y="2076" font-size="32.6" font-weight="normal" fill="#808080" stroke="#808080" stroke-width="0.59" textLength="110.6" lengthAdjust="spacingAndGlyphs">Leavor</text>
<text x="3736.18" y="2076" font-size="32.6" font-weight="normal" fill="#808080" stroke="#808080" stroke-width="0.59" textLength="103.71" lengthAdjust="spacingAndGlyphs">(AMA)</text>
<text x="3388.26" y="2113.6" font-size="32.6" font-weight="normal" fill="#808080" stroke="#808080" stroke-width="0.59" textLength="175.32" lengthAdjust="spacingAndGlyphs">Generated</text>
<text x="3572.3" y="2113.6" font-size="32.6" font-weight="normal" fill="#808080" stroke="#808080" stroke-width="0.59" textLength="174.38" lengthAdjust="spacingAndGlyphs">2025-07-17</text>
<text x="3756.24" y="2113.6" font-size="32.6" font-weight="normal" fill="#808080" stroke="#808080" stroke-width="0.59" textLength="83.1" lengthAdjust="spacingAndGlyphs">22:25</text>
<text x="3532.5" y="2151" font-size="32.6" font-weight="normal" fill="#808080" stroke="#808080" stroke-width="0.59" textLength="78.47" lengthAdjust="spacingAndGlyphs">Data</text>
<text x="3624.8" y="2151" font-size="32.6" font-weight="normal" fill="#808080" stroke="#808080" stroke-width="0.59" textLength="128.72" lengthAdjust="spacingAndGlyphs">Version:</text>
<text x="3762.39" y="2151" font-size="32.6" font-weight="normal" fill="#808080" stroke="#808080" stroke-width="0.59" textLength="76.47" lengthAdjust="spacingAndGlyphs">6.0.0</text>
<text x="3526.21" y="59.2" font-size="41.6" font-weight="bold" fill="#fff" style="font-family:&quot;Liberation Serif&quot;,serif" textLength="175.86" lengthAdjust="spacingAndGlyphs">SAGE III</text>
<text x="3731.59" y="59.2" font-size="41.6" font-weight="bold" fill="#fff" style="font-family:&quot;Liberation Serif&quot;,serif" textLength="63.12" lengthAdjust="spacingAndGlyphs">ISS</text>
<text x="3527.53" y="71.5" font-size="8.1" font-weight="normal" fill="#fff" textLength="174.36" lengthAdjust="spacingAndGlyphs">Stratospheric Aerosol and Gas Experiment III</text>
<text x="3736.34" y="71.5" font-size="8.1" font-weight="normal" fill="#fff" textLength="53.81" lengthAdjust="spacingAndGlyphs">International</text>
<text x="3732.9" y="82.7" font-size="8.1" font-weight="normal" fill="#fff" textLength="60.65" lengthAdjust="spacingAndGlyphs">Space Station</text>
<text transform="matrix(1.33 0 -0.2065 1 1180.2 111.4)" font-size="91.3" font-weight="bold" fill="#fff">/</text>
<text transform="matrix(1.07 0 -0.283 1 3414.7 2042.4)" font-size="37.1" fill="#808080">/</text>
</g>
<circle cx="3716.2" cy="45.6" r="4" fill="#fff"/>
<g font-size="16.7" font-weight="bold" fill="#fff">
<text><textPath href="#lgarc" startOffset="40.2" textLength="39" lengthAdjust="spacingAndGlyphs">BALL</textPath></text>
<text><textPath href="#lgarc" startOffset="88.8" text-anchor="middle">•</textPath></text>
<text><textPath href="#lgarc" startOffset="98.8" textLength="268.6" lengthAdjust="spacingAndGlyphs">NASA LANGLEY RESEARCH CENTER</textPath></text>
<text><textPath href="#lgarc" startOffset="378.2" text-anchor="middle">•</textPath></text>
<text><textPath href="#lgarc" startOffset="389.6" textLength="40.4" lengthAdjust="spacingAndGlyphs">TAS-I</textPath></text>
<text><textPath href="#lgarc" startOffset="439" text-anchor="middle">•</textPath></text>
<text><textPath href="#lgarc" startOffset="450.4" textLength="29.2" lengthAdjust="spacingAndGlyphs">ESA</textPath></text>
</g>
</svg>
</body></html>
